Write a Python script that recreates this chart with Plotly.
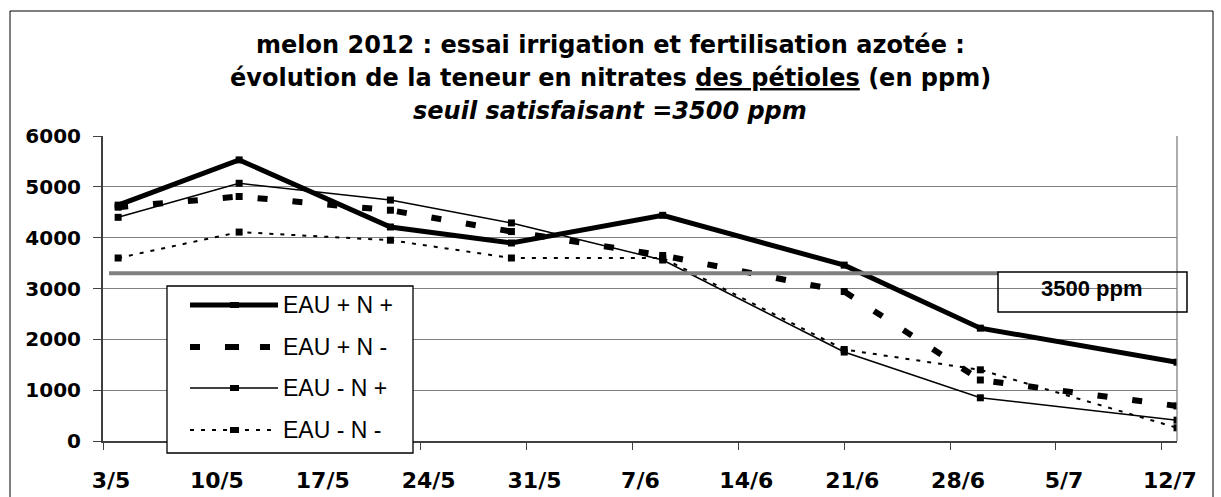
import plotly.graph_objects as go

# ---------------- data ----------------
DATES = ["2012-05-04", "2012-05-12", "2012-05-22", "2012-05-30",
         "2012-06-09", "2012-06-21", "2012-06-30", "2012-07-13"]
SERIES_NAMES = ["EAU + N +", "EAU + N -", "EAU - N +", "EAU - N -"]
EAU_P_N_P = [4640, 5530, 4210, 3895, 4440, 3460, 2220, 1550]
EAU_P_N_M = [4600, 4810, 4540, 4120, 3650, 2940, 1200, 690]
EAU_M_N_P = [4400, 5070, 4740, 4290, 3560, 1750, 850, 410]
EAU_M_N_M = [3600, 4110, 3950, 3600, 3600, 1800, 1400, 260]
TICK_DATES = ["2012-05-03", "2012-05-10", "2012-05-17", "2012-05-24",
              "2012-05-31", "2012-06-07", "2012-06-14", "2012-06-21",
              "2012-06-28", "2012-07-05", "2012-07-12"]
TICK_LABELS = ["3/5", "10/5", "17/5", "24/5", "31/5", "7/6", "14/6",
               "21/6", "28/6", "5/7", "12/7"]
THRESHOLD_DRAWN = 3300
THRESHOLD_LABEL = "3500 ppm"

# ---------------- geometry helpers ----------------
W, H = 1221, 497
L, R, T, B = 103, 1177, 136, 441


def px(xp):
    return (xp - L) / (R - L)


def py(yp):
    return (B - yp) / (B - T)


FONT = "Liberation Sans, Arial, sans-serif"
WIDE = "DejaVu Sans, Liberation Sans, sans-serif"

styles = [
    dict(width=5, dash="solid"),
    dict(width=6, dash="10px,25px"),
    dict(width=1.5, dash="solid"),
    dict(width=2, dash="4px,7px"),
]
values = [EAU_P_N_P, EAU_P_N_M, EAU_M_N_P, EAU_M_N_M]

fig = go.Figure()
for name, vals, st in zip(SERIES_NAMES, values, styles):
    fig.add_trace(go.Scatter(
        x=DATES, y=vals, name=name, mode="lines+markers",
        line=dict(color="black", width=st["width"], dash=st["dash"]),
        marker=dict(symbol="square", size=7, color="black"),
        showlegend=False,
    ))

shapes = []
annotations = []

# outer chart border
shapes.append(dict(type="rect", xref="paper", yref="paper",
                   x0=px(10), x1=px(1213), y0=py(500), y1=py(11),
                   line=dict(color="black", width=1), layer="above"))
# right border of plot area
shapes.append(dict(type="line", xref="paper", yref="paper",
                   x0=1, x1=1, y0=0, y1=1,
                   line=dict(color="#808080", width=1.3)))
# threshold line
shapes.append(dict(type="line", xref="paper", yref="y",
                   x0=px(109), x1=px(998), y0=THRESHOLD_DRAWN, y1=THRESHOLD_DRAWN,
                   line=dict(color="#808080", width=4)))
# threshold label box
shapes.append(dict(type="rect", xref="paper", yref="paper",
                   x0=px(998), x1=px(1187), y0=py(312), y1=py(272),
                   line=dict(color="black", width=1.5), layer="above"))
annotations.append(dict(xref="paper", yref="paper", x=px(1092), y=py(288),
                        text="<b>%s</b>" % THRESHOLD_LABEL, showarrow=False,
                        xanchor="center", yanchor="middle",
                        font=dict(family=FONT, size=22, color="black")))

# manual legend
shapes.append(dict(type="rect", xref="paper", yref="paper",
                   x0=px(167), x1=px(413), y0=py(453), y1=py(286),
                   fillcolor="white", line=dict(color="black", width=1.3),
                   layer="above"))
legend_y = [305, 347, 388, 430]
for name, st, yy in zip(SERIES_NAMES, styles, legend_y):
    shapes.append(dict(type="line", xref="paper", yref="paper",
                       x0=px(190), x1=px(278), y0=py(yy), y1=py(yy),
                       line=dict(color="black", width=st["width"], dash=st["dash"]),
                       layer="above"))
    shapes.append(dict(type="rect", xref="paper", yref="paper",
                       x0=px(230), x1=px(239), y0=py(yy + 3), y1=py(yy - 3),
                       fillcolor="black", line=dict(width=0), layer="above"))
    annotations.append(dict(xref="paper", yref="paper", x=px(281), y=py(yy),
                            text=name, showarrow=False, xanchor="left",
                            yanchor="middle",
                            font=dict(family=FONT, size=23, color="black")))

# titles
title_lines = [
    ("<b>melon 2012 : essai irrigation et fertilisation azotée :</b>", 45),
    ("<b>évolution de la teneur en nitrates <u>des pétioles</u> (en ppm)</b>", 78),
    ("<b><i>seuil satisfaisant =3500 ppm</i></b>", 111),
]
for txt, yy in title_lines:
    annotations.append(dict(xref="paper", yref="paper", x=px(610), y=py(yy),
                            text=txt, showarrow=False, xanchor="center",
                            yanchor="middle",
                            font=dict(family=WIDE, size=24, color="black")))

fig.update_layout(
    width=W, height=H, autosize=False,
    margin=dict(l=L, r=W - R, t=T, b=H - B, pad=0),
    paper_bgcolor="white", plot_bgcolor="white",
    shapes=shapes, annotations=annotations, showlegend=False,
    font=dict(family=FONT, color="black"),
)
fig.update_xaxes(
    type="date", range=["2012-05-03", "2012-07-13"],
    tickmode="array", tickvals=TICK_DATES, ticktext=TICK_LABELS,
    ticks="outside", ticklen=7, tickcolor="#404040", tickwidth=1.3,
    showline=True, linecolor="#404040", linewidth=2,
    showgrid=False, zeroline=False, ticklabelshift=8,
    ticklabelstandoff=12, automargin=False,
    tickfont=dict(family=WIDE, size=22, color="black", weight="bold"),
)
fig.update_yaxes(
    range=[0, 6000], dtick=1000, tick0=0,
    ticks="outside", ticklen=8, tickcolor="#404040", tickwidth=1.3,
    showline=True, linecolor="#404040", linewidth=2,
    showgrid=True, gridcolor="#808080", gridwidth=1.3, zeroline=False,
    ticklabelstandoff=8, automargin=False,
    tickfont=dict(family=WIDE, size=20, color="black", weight="bold"),
)

fig.write_html("out.html",
               config={"displayModeBar": False},
               post_script="document.body.style.margin='0px';")
